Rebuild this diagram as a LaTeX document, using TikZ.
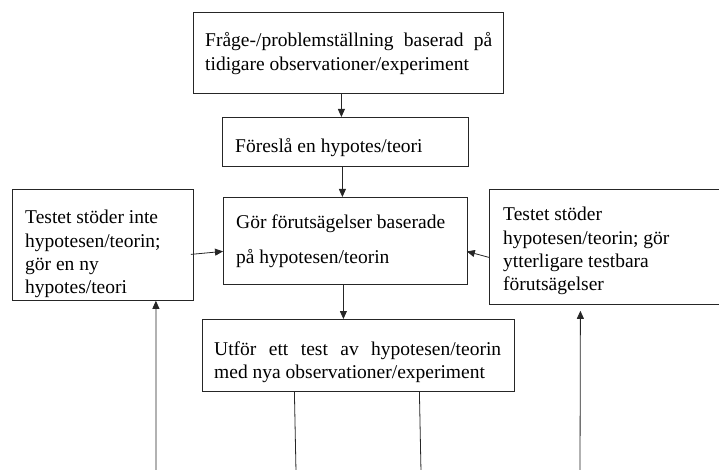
\documentclass[tikz,border=0pt]{standalone}
\usepackage{fontspec}
\setmainfont{Liberation Serif}
\usetikzlibrary{arrows.meta}
\tikzset{
  box/.style={draw=black!85, line width=0.8pt, rectangle, inner sep=0pt, anchor=north west},
  txt/.style={anchor=base west, inner sep=0pt, font=\fontsize{19.5}{23}\selectfont},
  conn/.style={draw=black!85, line width=0.8pt, -{Triangle[length=8pt,width=7pt]}},
  plain/.style={draw=black!85, line width=0.8pt}
}
\begin{document}
\begin{tikzpicture}[x=1pt,y=-1pt]
\useasboundingbox (0,0) rectangle (719,470);
\clip (0,0) rectangle (719,470);
% boxes
\node[box, minimum width=310pt, minimum height=81pt] (q) at (193,12) {};
\node[box, minimum width=246pt, minimum height=49pt] (h) at (222,117) {};
\node[box, minimum width=244pt, minimum height=87pt] (p) at (223,197) {};
\node[box, minimum width=181pt, minimum height=111pt] (L) at (12,189) {};
\node[box, minimum width=240pt, minimum height=115pt] (R) at (489,189) {};
\node[box, minimum width=312pt, minimum height=72pt] (t) at (202,319) {};
% texts
\node[txt] (q1) at (205,47) {\hbox to 287pt{Fråge-/problemställning\hfill baserad\hfill på}};
\node[txt] (q2) at (205,71) {tidigare observationer/experiment};
\node[txt] (h1) at (235,153) {Föreslå en hypotes/teori};
\node[txt] (p1) at (236,229) {Gör förutsägelser baserade};
\node[txt] (p2) at (236,263) {på hypotesen/teorin};
\node[txt] (L1) at (25,223) {Testet stöder inte};
\node[txt] (L2) at (25,247) {hypotesen/teorin;};
\node[txt] (L3) at (25,270) {gör en ny};
\node[txt] (L4) at (25,293) {hypotes/teori};
\node[txt] (R1) at (503,220) {Testet stöder};
\node[txt] (R2) at (503,244) {hypotesen/teorin; gör};
\node[txt] (R3) at (503,267) {ytterligare testbara};
\node[txt] (R4) at (503,290) {förutsägelser};
\node[txt] (t1) at (214,355) {\hbox to 287pt{Utför\hfill ett\hfill test\hfill av\hfill hypotesen/teorin}};
\node[txt] (t2) at (214,378) {med nya observationer/experiment};
% free ends at the bottom
\coordinate (b1) at (296,472);
\coordinate (b2) at (421,472);
\coordinate (b3) at (156,472);
\coordinate (b4) at (580,472);
% connectors
\draw[conn] ([xshift=-7pt]q.south) -- ([xshift=-4pt]h.north);
\draw[conn] ([xshift=-3pt]h.south) -- ([xshift=-3pt]p.north);
\draw[conn] ([xshift=-2pt]p.south) -- ([xshift=-15pt]t.north);
\draw[conn] ([xshift=-3pt,yshift=-9.5pt]L.east) -- ([yshift=-10.5pt]p.west);
\draw[conn] ([yshift=-10.5pt]R.west) -- ([xshift=-1pt,yshift=-10.5pt]p.east);
\draw[plain] ([xshift=-64pt]t.south) -- (b1);
\draw[plain] ([xshift=61pt]t.south) -- (b2);
\draw[conn] (b3) -- ([xshift=53pt]L.south);
\draw[conn] (b4) -- ([xshift=-29pt,yshift=-6pt]R.south);
\end{tikzpicture}
\end{document}
